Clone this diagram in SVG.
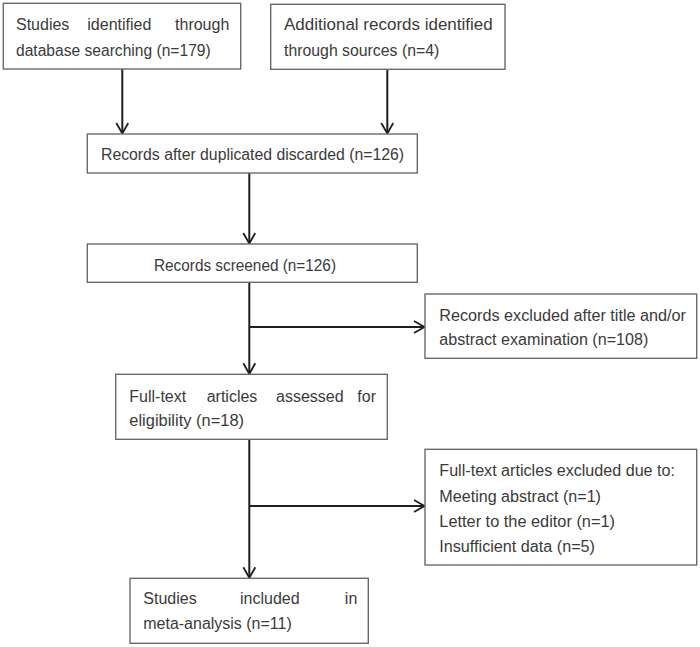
<svg xmlns="http://www.w3.org/2000/svg" width="700" height="647" viewBox="0 0 700 647">
<defs>
<style>
.box{fill:#fff;stroke:#6a6a6a;stroke-width:1.4}
.t{font-family:"Liberation Sans",Arial,sans-serif;font-size:16px;fill:#3a3a3a}
.e{text-anchor:end}
.c{fill:none;stroke:#1e1e1e;stroke-width:2}
</style>
<marker id="ah" markerUnits="userSpaceOnUse" viewBox="0 0 12 14" refX="11.5" refY="7" markerWidth="12" markerHeight="14" orient="auto">
<path d="M1,1 L11.5,7 L1,13" fill="none" stroke="#1e1e1e" stroke-width="1.8"/>
</marker>
</defs>
<rect width="700" height="647" fill="#fff"/>
<g id="connectors">
<line class="c" x1="122.3" y1="69" x2="122.3" y2="133.5" marker-end="url(#ah)"/>
<line class="c" x1="387.3" y1="69.3" x2="387.3" y2="133.5" marker-end="url(#ah)"/>
<line class="c" x1="249.3" y1="173" x2="249.3" y2="243.5" marker-end="url(#ah)"/>
<line class="c" x1="249.3" y1="282.3" x2="249.3" y2="373.8" marker-end="url(#ah)"/>
<line class="c" x1="249.3" y1="327" x2="424.5" y2="327" marker-end="url(#ah)"/>
<line class="c" x1="249.3" y1="439.3" x2="249.3" y2="577.8" marker-end="url(#ah)"/>
<line class="c" x1="249.3" y1="506" x2="424.5" y2="506" marker-end="url(#ah)"/>
</g>
<g id="n1">
<rect class="box" x="3.3" y="3.3" width="237.4" height="65.7"/>
<text class="t" x="16" y="30">Studies</text>
<text class="t" x="87.3" y="30">identified</text>
<text class="t e" x="229.3" y="30">through</text>
<text class="t" x="16" y="55.5" textLength="194.7" lengthAdjust="spacingAndGlyphs">database searching (n=179)</text>
</g>
<g id="n2">
<rect class="box" x="270.7" y="4.3" width="234.3" height="65"/>
<text class="t" x="284" y="30" textLength="208.7" lengthAdjust="spacingAndGlyphs">Additional records identified</text>
<text class="t" x="284" y="55.5" textLength="155.3" lengthAdjust="spacingAndGlyphs">through sources (n=4)</text>
</g>
<g id="n3">
<rect class="box" x="87.3" y="134" width="330" height="39"/>
<text class="t" x="101" y="159.5" textLength="303" lengthAdjust="spacingAndGlyphs">Records after duplicated discarded (n=126)</text>
</g>
<g id="n4">
<rect class="box" x="87.3" y="244" width="330" height="38.3"/>
<text class="t" x="154" y="270.7" textLength="182" lengthAdjust="spacingAndGlyphs">Records screened (n=126)</text>
</g>
<g id="n5">
<rect class="box" x="425" y="294" width="271.7" height="64.3"/>
<text class="t" x="439.3" y="320.5" textLength="246.7" lengthAdjust="spacingAndGlyphs">Records excluded after title and/or</text>
<text class="t" x="439.3" y="344.5" textLength="209" lengthAdjust="spacingAndGlyphs">abstract examination (n=108)</text>
</g>
<g id="n6">
<rect class="box" x="115.7" y="374.3" width="271.6" height="65"/>
<text class="t" x="129.3" y="401.7">Full-text</text>
<text class="t" x="206.7" y="401.7">articles</text>
<text class="t" x="276" y="401.7">assessed</text>
<text class="t e" x="376" y="401.7">for</text>
<text class="t" x="129.3" y="426" textLength="114.7" lengthAdjust="spacingAndGlyphs">eligibility (n=18)</text>
</g>
<g id="n7">
<rect class="box" x="425" y="449.3" width="271.7" height="115.7"/>
<text class="t" x="439.3" y="476" textLength="235.7" lengthAdjust="spacingAndGlyphs">Full-text articles excluded due to:</text>
<text class="t" x="439.3" y="501.5" textLength="161.7" lengthAdjust="spacingAndGlyphs">Meeting abstract (n=1)</text>
<text class="t" x="439.3" y="526.5" textLength="175.7" lengthAdjust="spacingAndGlyphs">Letter to the editor (n=1)</text>
<text class="t" x="439.3" y="551.5" textLength="155.7" lengthAdjust="spacingAndGlyphs">Insufficient data (n=5)</text>
</g>
<g id="n8">
<rect class="box" x="130" y="578.3" width="238.3" height="65"/>
<text class="t" x="143.3" y="604">Studies</text>
<text class="t" x="240" y="604">included</text>
<text class="t e" x="357.3" y="604">in</text>
<text class="t" x="143.3" y="629.3" textLength="148.4" lengthAdjust="spacingAndGlyphs">meta-analysis (n=11)</text>
</g>
</svg>
